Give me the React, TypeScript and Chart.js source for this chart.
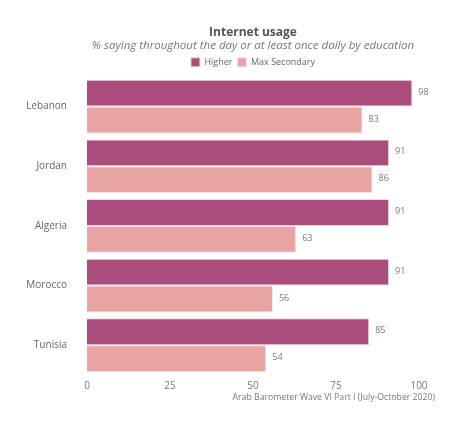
import React, { useEffect, useRef } from "react";
import { Chart, registerables } from "chart.js";

Chart.register(...registerables);

const categories = ["Lebanon", "Jordan", "Algeria", "Morocco", "Tunisia"];
const higher = [98, 91, 91, 91, 85];
const maxSecondary = [83, 86, 63, 56, 54];
const seriesNames = ["Higher", "Max Secondary"];
const xTicks = [0, 25, 50, 75, 100];
const titleText = "Internet usage";
const subtitleText = "% saying throughout the day or at least once daily by education";
const sourceText = "Arab Barometer Wave VI Part I (July-October 2020)";

const FONT = "'Open Sans', 'DejaVu Sans', sans-serif";

const valueLabels = {
  id: "valueLabels",
  afterDatasetsDraw(chart: any) {
    const ctx = chart.ctx;
    ctx.save();
    ctx.font = `9px ${FONT}`;
    ctx.fillStyle = "#777";
    ctx.textAlign = "left";
    ctx.textBaseline = "middle";
    chart.data.datasets.forEach((ds: any, i: number) => {
      const meta = chart.getDatasetMeta(i);
      meta.data.forEach((el: any, j: number) => {
        ctx.fillText(String(ds.data[j]), el.x + 6, el.y - 1);
      });
    });
    ctx.restore();
  },
};

const sourcePlugin = {
  id: "sourcePlugin",
  afterDraw(chart: any) {
    const ctx = chart.ctx;
    ctx.save();
    ctx.font = `8.7px ${FONT}`;
    ctx.fillStyle = "#777";
    ctx.textAlign = "right";
    ctx.textBaseline = "middle";
    ctx.fillText(sourceText, 435, 398);
    ctx.restore();
  },
};

export default function App() {
  const ref = useRef<HTMLCanvasElement | null>(null);
  useEffect(() => {
    document.body.style.margin = "0";
    if (!ref.current) return;
    const chart = new Chart(ref.current, {
      type: "bar",
      data: {
        labels: categories,
        datasets: [
          {
            label: seriesNames[0],
            data: higher,
            backgroundColor: "#ab4d7c",
            borderColor: "#f2d3df",
            borderWidth: 1,
            categoryPercentage: 0.9,
            barPercentage: 1.0,
          },
          {
            label: seriesNames[1],
            data: maxSecondary,
            backgroundColor: "#e8a3a3",
            borderColor: "#f8e0e2",
            borderWidth: 1,
            categoryPercentage: 0.9,
            barPercentage: 1.0,
          },
        ],
      },
      options: {
        indexAxis: "y",
        responsive: false,
        animation: false,
        layout: { padding: { top: 27, right: 45, bottom: 31, left: 10 } },
        plugins: {
          title: {
            display: true,
            fullSize: false,
            text: titleText,
            color: "#555",
            font: { family: FONT, size: 12, weight: "bold", lineHeight: 1.0 },
            padding: { top: 0, bottom: 0 },
          },
          subtitle: {
            display: true,
            fullSize: false,
            text: subtitleText,
            color: "#777",
            font: { family: FONT, size: 11.5, style: "italic", lineHeight: 1.2 },
            padding: { top: 0, bottom: 0 },
          },
          legend: {
            display: true,
            fullSize: false,
            position: "top",
            labels: {
              boxWidth: 9,
              boxHeight: 9,
              color: "#666",
              font: { family: FONT, size: 9 },
              padding: 5,
            },
          },
          tooltip: { enabled: false },
        },
        scales: {
          x: {
            min: 0,
            max: 100,
            grid: { display: false, drawTicks: false, tickLength: 0 },
            border: { display: false },
            afterBuildTicks: (axis: any) => {
              axis.ticks = xTicks.map((v) => ({ value: v }));
            },
            ticks: {
              color: "#777",
              font: { family: FONT, size: 10 },
              padding: 5,
            },
          },
          y: {
            grid: { display: false, drawTicks: false, tickLength: 0 },
            border: { display: false },
            afterFit: (axis: any) => {
              axis.width = 77;
            },
            ticks: {
              color: "#666",
              font: { family: FONT, size: 10 },
              padding: 20,
            },
          },
        },
      },
      plugins: [valueLabels, sourcePlugin],
    });
    return () => chart.destroy();
  }, []);
  return (
    <div style={{ width: 464, height: 428 }}>
      <canvas ref={ref} width={464} height={428} style={{ width: 464, height: 428 }} />
    </div>
  );
}
